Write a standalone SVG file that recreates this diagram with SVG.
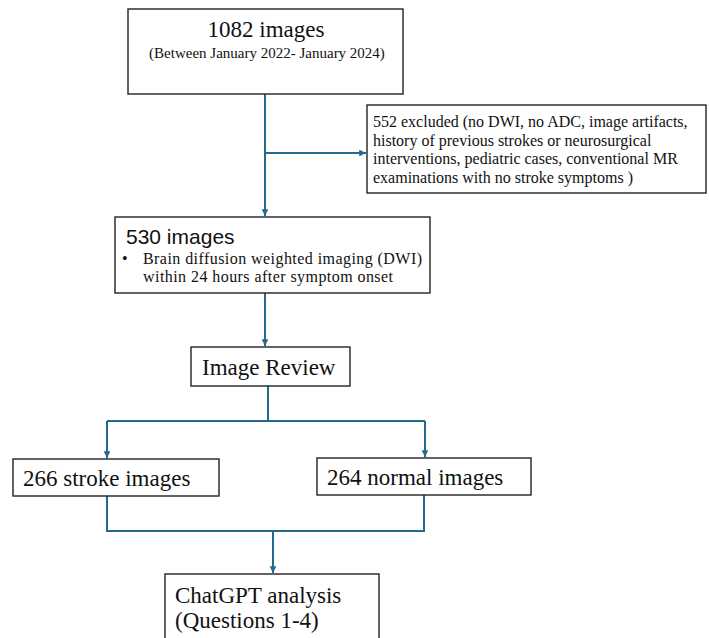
<svg xmlns="http://www.w3.org/2000/svg" width="709" height="638" viewBox="0 0 709 638">
<style>
.box{fill:#fff;stroke:#222;stroke-width:1.4}
.c{fill:none;stroke:#236a8e;stroke-width:2}
.t{font-family:"Liberation Serif","Times New Roman",serif;fill:#111}
.s{font-family:"Liberation Sans",Arial,sans-serif;fill:#111}
</style>
<defs>
<marker id="ah" viewBox="0 0 10 10" refX="10" refY="5" markerWidth="3.4" markerHeight="3.4" orient="auto" markerUnits="strokeWidth">
<path d="M0,0 L10,5 L0,10 z" fill="#236a8e"/>
</marker>
</defs>
<rect width="709" height="638" fill="#fff"/>
<g id="connectors">
<path class="c" d="M265,94 V216" marker-end="url(#ah)"/>
<path class="c" d="M265,153 H366" marker-end="url(#ah)"/>
<path class="c" d="M265,293 V346" marker-end="url(#ah)"/>
<path class="c" d="M268,386 V421"/>
<path class="c" d="M107,421 H425"/>
<path class="c" d="M107,421 V458" marker-end="url(#ah)"/>
<path class="c" d="M425,421 V457" marker-end="url(#ah)"/>
<path class="c" d="M107,496 V531 H424 V495"/>
<path class="c" d="M273,531 V573" marker-end="url(#ah)"/>
</g>
<g id="n1082">
<rect class="box" x="128" y="9" width="275" height="85"/>
<text class="t" x="266" y="37" font-size="23" text-anchor="middle">1082 images</text>
<text class="t" x="267" y="58" font-size="15" text-anchor="middle">(Between January 2022-  January 2024)</text>
</g>
<g id="excluded">
<rect class="box" x="367" y="105" width="339" height="88"/>
<text class="t" font-size="16">
<tspan x="373" y="127">552 excluded (no DWI, no ADC, image artifacts,</tspan>
<tspan x="373" y="145.5">history of previous strokes or neurosurgical</tspan>
<tspan x="373" y="164">interventions, pediatric cases, conventional MR</tspan>
<tspan x="373" y="182.5">examinations with no stroke symptoms )</tspan>
</text>
</g>
<g id="n530">
<rect class="box" x="115" y="217" width="315" height="76"/>
<text class="s" x="126" y="244" font-size="21">530 images</text>
<text class="t" x="122" y="264" font-size="16">•</text>
<text class="t" x="143" y="264" font-size="16" textLength="279" lengthAdjust="spacing">Brain diffusion weighted imaging (DWI)</text>
<text class="t" x="143" y="282" font-size="16" textLength="250" lengthAdjust="spacing">within 24 hours after symptom onset</text>
</g>
<g id="review">
<rect class="box" x="191" y="347" width="159" height="39"/>
<text class="t" x="202" y="375" font-size="23">Image Review</text>
</g>
<g id="stroke">
<rect class="box" x="13" y="459" width="206" height="37"/>
<text class="t" x="23" y="486" font-size="23">266 stroke images</text>
</g>
<g id="normal">
<rect class="box" x="317" y="458" width="214" height="37"/>
<text class="t" x="327" y="485" font-size="23">264 normal images</text>
</g>
<g id="chatgpt">
<rect class="box" x="165" y="574" width="214" height="70"/>
<text class="t" x="175" y="603" font-size="23">ChatGPT analysis</text>
<text class="t" x="175" y="628" font-size="23">(Questions 1-4)</text>
</g>
</svg>
